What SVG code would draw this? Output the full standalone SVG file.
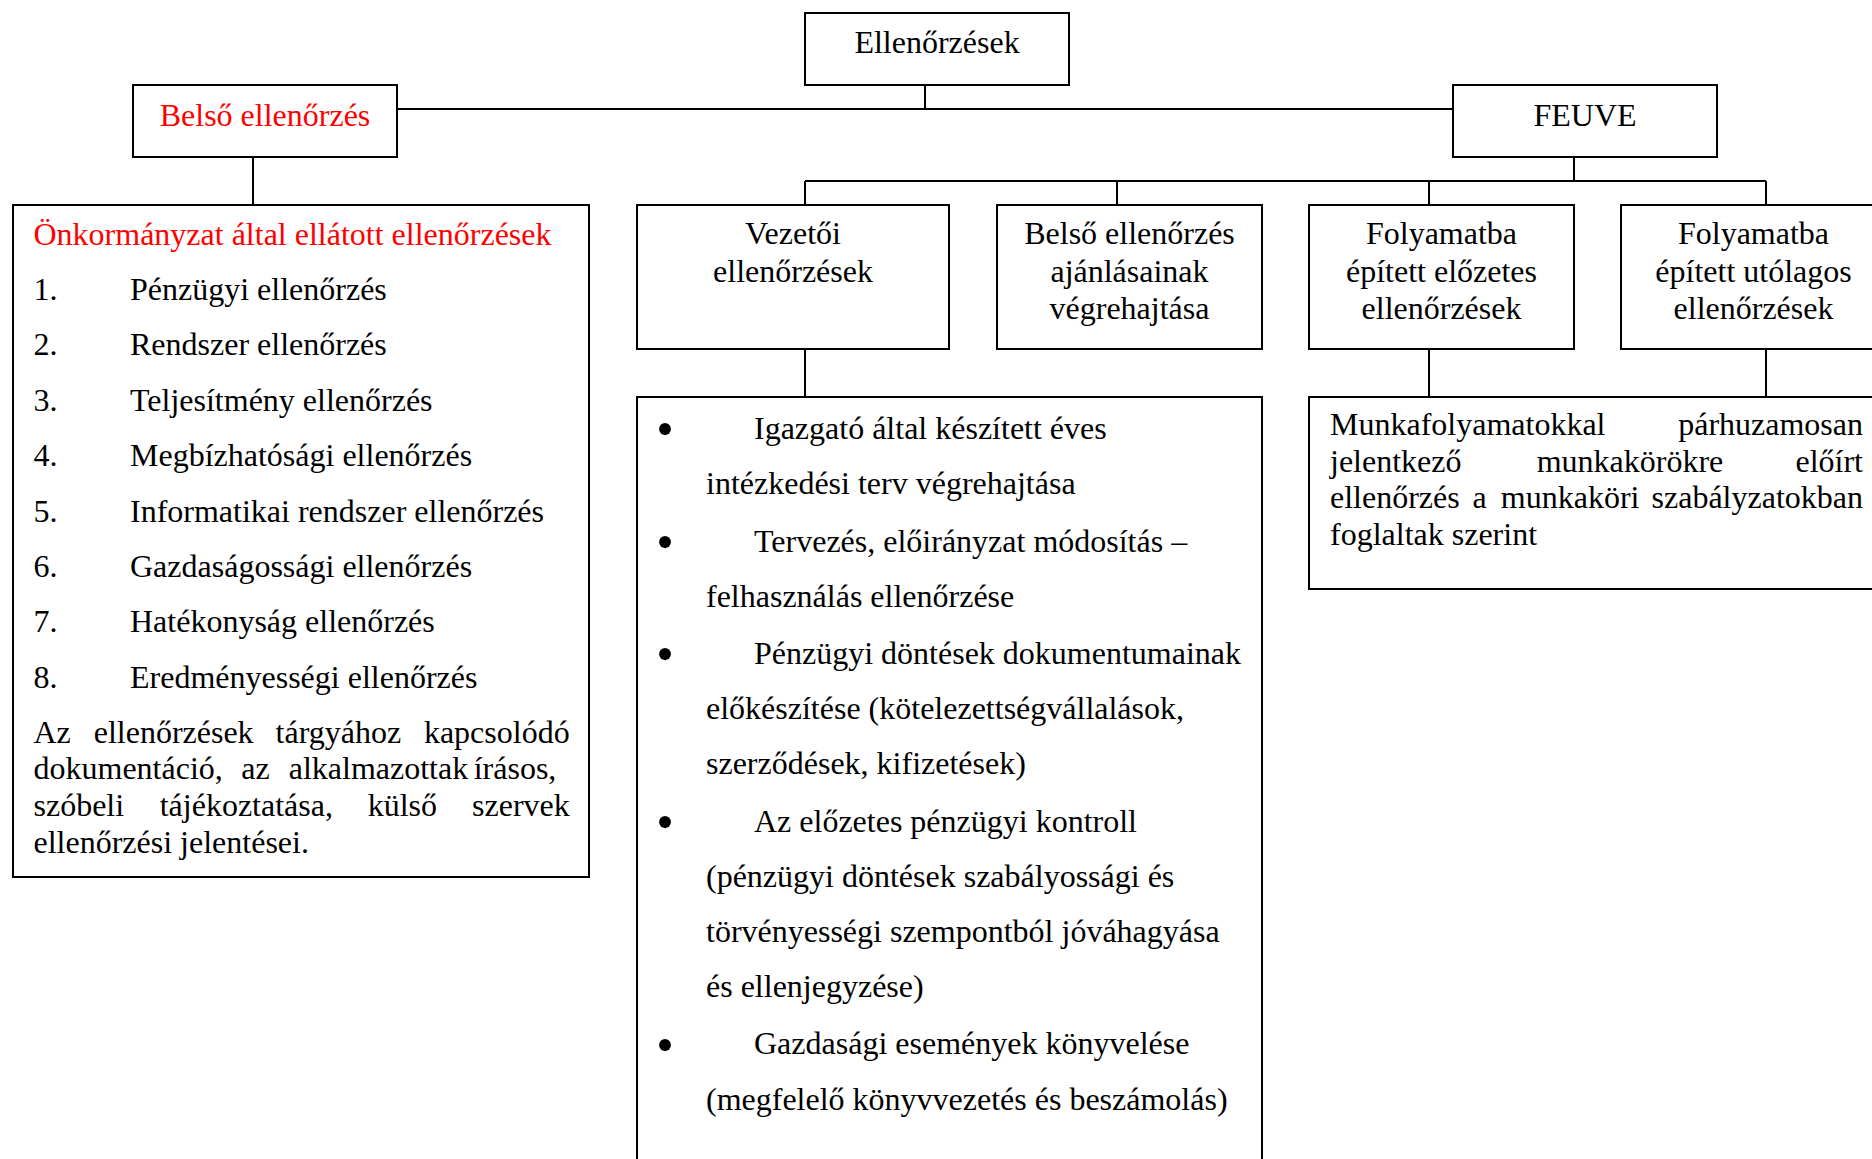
<svg xmlns="http://www.w3.org/2000/svg" width="1872" height="1159" viewBox="0 0 1872 1159">
<style>
.box{fill:#fff;stroke:#000;stroke-width:2}
.ln{fill:none;stroke:#000;stroke-width:2}
text{font-family:"Liberation Serif","Times New Roman",serif;font-size:32px;fill:#000}
.c{text-anchor:middle}
.red{fill:#ff0000}
.e{text-anchor:end}
.bul{font-size:50px;text-anchor:middle}
</style>
<rect width="1872" height="1159" fill="#fff"/>
<g id="connectors">
<path class="ln" d="M925 85V109M397 109H1453M253 157V205M1574 157V181M805 181H1766M805 181V205M1117 181V205M1429 181V205M1766 181V205M805 349V397M1429 349V397M1766 349V397"/>
</g>
<g id="n-ellenorzesek">
<rect class="box" x="805" y="13" width="264" height="72"/>
<text class="c" x="937" y="53">Ellenőrzések</text>
</g>
<g id="n-belso">
<rect class="box" x="133" y="85" width="264" height="72"/>
<text class="c red" x="265" y="126">Belső ellenőrzés</text>
</g>
<g id="n-feuve">
<rect class="box" x="1453" y="85" width="264" height="72"/>
<text class="c" x="1585" y="126">FEUVE</text>
</g>
<g id="n-onkormanyzat">
<rect class="box" x="13" y="205" width="576" height="672"/>
<text class="red" x="33.5" y="244.5">Önkormányzat által ellátott ellenőrzések</text>
<text x="33.5" y="300">1.</text><text x="130" y="300">Pénzügyi ellenőrzés</text>
<text x="33.5" y="355.4">2.</text><text x="130" y="355.4">Rendszer ellenőrzés</text>
<text x="33.5" y="410.8">3.</text><text x="130" y="410.8">Teljesítmény ellenőrzés</text>
<text x="33.5" y="466.2">4.</text><text x="130" y="466.2">Megbízhatósági ellenőrzés</text>
<text x="33.5" y="521.6">5.</text><text x="130" y="521.6">Informatikai rendszer ellenőrzés</text>
<text x="33.5" y="577">6.</text><text x="130" y="577">Gazdaságossági ellenőrzés</text>
<text x="33.5" y="632.4">7.</text><text x="130" y="632.4">Hatékonyság ellenőrzés</text>
<text x="33.5" y="687.8">8.</text><text x="130" y="687.8">Eredményességi ellenőrzés</text>
<text y="742.5"><tspan x="33.5">Az</tspan> <tspan x="93.7">ellenőrzések</tspan> <tspan x="275.6">tárgyához</tspan> <tspan x="423.9">kapcsolódó</tspan></text>
<text y="779"><tspan x="33.5">dokumentáció,</tspan> <tspan x="241.2">az</tspan> <tspan x="288.7">alkalmazottak</tspan> <tspan x="473.7">írásos,</tspan></text>
<text y="816"><tspan x="33.5">szóbeli</tspan> <tspan x="159.7">tájékoztatása,</tspan> <tspan x="367.7">külső</tspan> <tspan x="472.1">szervek</tspan></text>
<text x="33.5" y="852.8">ellenőrzési jelentései.</text>
</g>
<g id="n-vezetoi">
<rect class="box" x="637" y="205" width="312" height="144"/>
<text class="c" x="793" y="244.3">Vezetői</text>
<text class="c" x="793" y="281.5">ellenőrzések</text>
</g>
<g id="n-ajanlas">
<rect class="box" x="997" y="205" width="265" height="144"/>
<text class="c" x="1129.5" y="244.3">Belső ellenőrzés</text>
<text class="c" x="1129.5" y="281.5">ajánlásainak</text>
<text class="c" x="1129.5" y="318.5">végrehajtása</text>
</g>
<g id="n-elozetes">
<rect class="box" x="1309" y="205" width="265" height="144"/>
<text class="c" x="1441.5" y="244.3">Folyamatba</text>
<text class="c" x="1441.5" y="281.5">épített előzetes</text>
<text class="c" x="1441.5" y="318.5">ellenőrzések</text>
</g>
<g id="n-utolagos">
<rect class="box" x="1621" y="205" width="265" height="144"/>
<text class="c" x="1753.5" y="244.3">Folyamatba</text>
<text class="c" x="1753.5" y="281.5">épített utólagos</text>
<text class="c" x="1753.5" y="318.5">ellenőrzések</text>
</g>
<g id="n-vezetoi-lista">
<rect class="box" x="637" y="397" width="625" height="790"/>
<text class="bul" x="665" y="446">•</text>
<text x="754" y="438.5">Igazgató által készített éves</text>
<text x="706" y="494">intézkedési terv végrehajtása</text>
<text class="bul" x="665" y="559">•</text>
<text x="754" y="551.5">Tervezés, előirányzat módosítás –</text>
<text x="706" y="606.5">felhasználás ellenőrzése</text>
<text class="bul" x="665" y="671">•</text>
<text x="754" y="663.5">Pénzügyi döntések dokumentumainak</text>
<text x="706" y="718.5">előkészítése (kötelezettségvállalások,</text>
<text x="706" y="774">szerződések, kifizetések)</text>
<text class="bul" x="665" y="839">•</text>
<text x="754" y="831.5">Az előzetes pénzügyi kontroll</text>
<text x="706" y="887">(pénzügyi döntések szabályossági és</text>
<text x="706" y="942">törvényességi szempontból jóváhagyása</text>
<text x="706" y="997">és ellenjegyzése)</text>
<text class="bul" x="665" y="1061.5">•</text>
<text x="754" y="1054">Gazdasági események könyvelése</text>
<text x="706" y="1110">(megfelelő könyvvezetés és beszámolás)</text>
</g>
<g id="n-munkafolyamat">
<rect class="box" x="1309" y="397" width="590" height="192"/>
<text y="435"><tspan x="1330">Munkafolyamatokkal</tspan> <tspan class="e" x="1863">párhuzamosan</tspan></text>
<text y="471.7"><tspan x="1330">jelentkező</tspan> <tspan x="1536.7">munkakörökre</tspan> <tspan class="e" x="1863">előírt</tspan></text>
<text y="508.4"><tspan x="1330">ellenőrzés</tspan> <tspan x="1472.5">a</tspan> <tspan x="1500.8">munkaköri</tspan> <tspan class="e" x="1863">szabályzatokban</tspan></text>
<text x="1330" y="545">foglaltak szerint</text>
</g>
</svg>
